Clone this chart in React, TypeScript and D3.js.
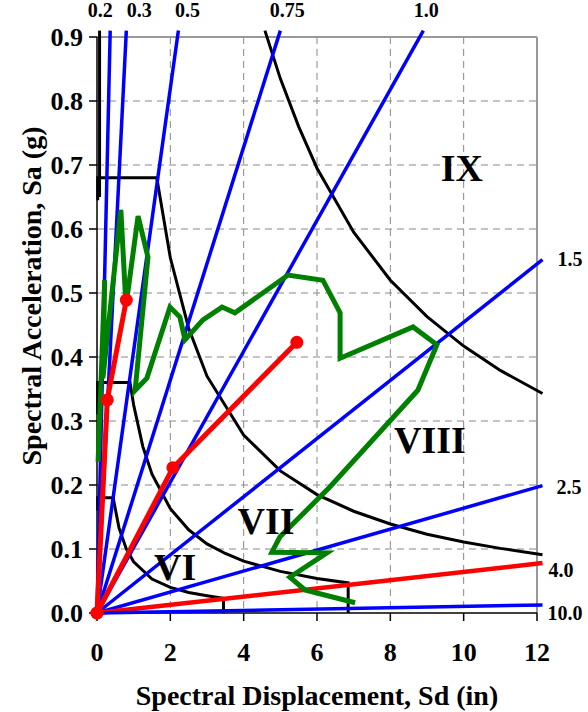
import React from 'react';
import * as d3 from 'd3';

const WIDTH = 588;
const HEIGHT = 712;
const LEFT = 97;
const RIGHT = 537;
const TOP = 37;
const BOTTOM = 613;
const FONT = '"Liberation Serif", "Times New Roman", serif';

// axis ticks
const sdTicks = [0, 2, 4, 6, 8, 10, 12];
const saTicks = [0, 0.1, 0.2, 0.3, 0.4, 0.5, 0.6, 0.7, 0.8, 0.9];

// constant period lines (T, sec): far end (Sd in, Sa g)
const periodLabels = ['0.2', '0.3', '0.5', '0.75', '1.0', '1.5', '2.5', '4.0', '10.0'];
const periodEndSd = [0.36, 0.8, 2.22, 5.0, 8.9, 12.15, 12.15, 12.15, 12.15];
const periodEndSa = [0.91, 0.91, 0.91, 0.91, 0.91, 0.552, 0.199, 0.078, 0.0125];
const periodHighlight = ['4.0'];

// region boundaries (MMI VI..IX) as [Sd, Sa]
const boundaryVI: number[][] = [
  [0.02, 0.16], [0.02, 0.18], [0.44, 0.18], [0.6, 0.133], [0.8, 0.1], [1.0, 0.08],
  [1.5, 0.053], [2.0, 0.04], [2.5, 0.032], [3.0, 0.027], [3.45, 0.023], [3.45, 0],
];
const boundaryVII: number[][] = [
  [0.02, 0.31], [0.02, 0.36], [0.9, 0.36], [1.0, 0.325], [1.25, 0.26], [1.5, 0.217],
  [2.0, 0.163], [2.5, 0.13], [3.0, 0.108], [3.5, 0.093], [4.0, 0.081], [5.0, 0.065],
  [6.0, 0.054], [6.85, 0.047], [6.85, 0],
];
const boundaryVIII: number[][] = [
  [0.02, 0.645], [0.02, 0.68], [1.63, 0.68], [2.0, 0.555], [2.5, 0.445], [3.0, 0.37],
  [4.0, 0.278], [5.0, 0.222], [6.0, 0.185], [7.0, 0.159], [8.0, 0.139], [9.0, 0.123],
  [10.0, 0.111], [11.0, 0.101], [12.15, 0.091],
];
const boundaryIXStem: number[][] = [[0.07, 0.65], [0.07, 0.91]];
const boundaryIX: number[][] = [
  [4.58, 0.91], [5.0, 0.835], [5.5, 0.76], [6.0, 0.695], [7.0, 0.595], [8.0, 0.52],
  [9.0, 0.463], [10.0, 0.417], [11.0, 0.379], [12.15, 0.343],
];

// response trace (green)
const trace: number[][] = [
  [0.03, 0.236], [0.21, 0.52], [0.16, 0.367], [0.65, 0.63], [0.79, 0.48], [1.12, 0.62],
  [1.39, 0.556], [1.04, 0.348], [1.36, 0.367], [1.99, 0.478], [2.26, 0.4625], [2.4, 0.427],
  [2.89, 0.458], [3.41, 0.478], [3.76, 0.469], [5.21, 0.528], [6.16, 0.52], [6.63, 0.469],
  [6.63, 0.398], [8.62, 0.447], [9.27, 0.419], [8.75, 0.348], [6.35, 0.197], [4.99, 0.119],
  [4.77, 0.095], [6.27, 0.094], [5.26, 0.056], [5.67, 0.036], [7.04, 0.016],
];

// performance points (red)
const pathA: number[][] = [[0, 0], [0.28, 0.333], [0.8, 0.489]];
const pathB: number[][] = [[0, 0], [2.07, 0.227], [5.45, 0.423]];

// region labels
const regionNames = ['VI', 'VII', 'VIII', 'IX'];
const regionSd = [2.13, 4.61, 9.08, 9.95];
const regionSa = [0.072, 0.144, 0.27, 0.695];

// label nudges (px) for the period labels
const labelNudge: Record<string, [number, number]> = {
  '0.2': [-10, -14], '0.3': [13, -14], '0.5': [9, -14], '0.75': [7, -14], '1.0': [3, -14],
  '1.5': [15, -1], '2.5': [14, 1], '4.0': [6, 7], '10.0': [5, 8],
};

function App() {
  const x = d3.scaleLinear().domain([0, 12]).range([LEFT, RIGHT]);
  const y = d3.scaleLinear().domain([0, 0.9]).range([BOTTOM, TOP]);
  const line = d3
    .line<number[]>()
    .x((d) => x(d[0]))
    .y((d) => y(d[1]));

  const boundaries = [boundaryVI, boundaryVII, boundaryVIII, boundaryIXStem, boundaryIX];

  return (
    <svg
      width={WIDTH}
      height={HEIGHT}
      style={{ position: 'absolute', left: 0, top: 0, background: '#fff' }}
      fontFamily={FONT}
      fontWeight="bold"
    >
      {/* grid */}
      <g stroke="#888" strokeWidth={1} strokeDasharray="7,5">
        {sdTicks.slice(1, -1).map((t) => (
          <line key={`gx${t}`} x1={x(t)} x2={x(t)} y1={TOP} y2={BOTTOM} />
        ))}
        {saTicks.slice(1, -1).map((t) => (
          <line key={`gy${t}`} x1={LEFT} x2={RIGHT} y1={y(t)} y2={y(t)} />
        ))}
      </g>
      {/* frame */}
      <line x1={LEFT} x2={RIGHT} y1={TOP} y2={TOP} stroke="#999" strokeWidth={2} />
      <line x1={RIGHT} x2={RIGHT} y1={TOP} y2={BOTTOM} stroke="#999" strokeWidth={2} />
      <line x1={LEFT} x2={RIGHT} y1={BOTTOM} y2={BOTTOM} stroke="#000" strokeWidth={1.5} />
      <line x1={LEFT} x2={LEFT} y1={TOP} y2={BOTTOM} stroke="#000" strokeWidth={1.5} />

      {/* ticks */}
      {sdTicks.map((t) => (
        <g key={`tx${t}`}>
          <line x1={x(t)} x2={x(t)} y1={BOTTOM} y2={BOTTOM + 8} stroke="#000" strokeWidth={1.5} />
          <text x={x(t)} y={BOTTOM + 48} textAnchor="middle" fontSize={26}>
            {t}
          </text>
        </g>
      ))}
      {saTicks.map((t) => (
        <g key={`ty${t}`}>
          <line x1={LEFT - 8} x2={LEFT} y1={y(t)} y2={y(t)} stroke="#000" strokeWidth={1.5} />
          <text x={LEFT - 14} y={y(t) + 9} textAnchor="end" fontSize={26}>
            {t.toFixed(1)}
          </text>
        </g>
      ))}

      {/* region boundaries */}
      <g fill="none" stroke="#000" strokeWidth={3}>
        {boundaries.map((b, i) => (
          <path key={`b${i}`} d={line(b) ?? ''} />
        ))}
      </g>

      {/* period lines */}
      {periodLabels.map((lab, i) => {
        const hot = periodHighlight.includes(lab);
        return (
          <line
            key={`p${lab}`}
            x1={x(0)}
            y1={y(0)}
            x2={x(periodEndSd[i])}
            y2={y(periodEndSa[i])}
            stroke={hot ? '#ff0000' : '#0000ff'}
            strokeWidth={hot ? 4.5 : 3.5}
          />
        );
      })}
      {periodLabels.map((lab, i) => {
        const [dx, dy] = labelNudge[lab];
        const top = periodEndSa[i] > 0.9;
        return (
          <text
            key={`pl${lab}`}
            x={x(periodEndSd[i]) + dx}
            y={y(periodEndSa[i]) + dy + (top ? 0 : 7)}
            textAnchor={top ? 'middle' : 'start'}
            fontSize={20}
          >
            {lab}
          </text>
        );
      })}

      {/* trace */}
      <path d={line(trace) ?? ''} fill="none" stroke="#008000" strokeWidth={5} strokeLinejoin="miter" />

      {/* performance points */}
      {[pathA, pathB].map((p, i) => (
        <g key={`r${i}`}>
          <path d={line(p) ?? ''} fill="none" stroke="#ff0000" strokeWidth={5} />
          {p.map((d, j) => (
            <circle key={j} cx={x(d[0])} cy={y(d[1])} r={6.5} fill="#ff0000" />
          ))}
        </g>
      ))}

      {/* region labels */}
      {regionNames.map((n, i) => (
        <text
          key={n}
          x={x(regionSd[i])}
          y={y(regionSa[i]) + 13}
          textAnchor="middle"
          fontSize={38}
        >
          {n}
        </text>
      ))}

      {/* axis titles */}
      <text x={(LEFT + RIGHT) / 2} y={705} textAnchor="middle" fontSize={28}>
        Spectral Displacement, Sd (in)
      </text>
      <text
        transform="translate(41, 296) rotate(-90)"
        textAnchor="middle"
        fontSize={28}
      >
        Spectral Acceleration, Sa (g)
      </text>
    </svg>
  );
}

export default App;
